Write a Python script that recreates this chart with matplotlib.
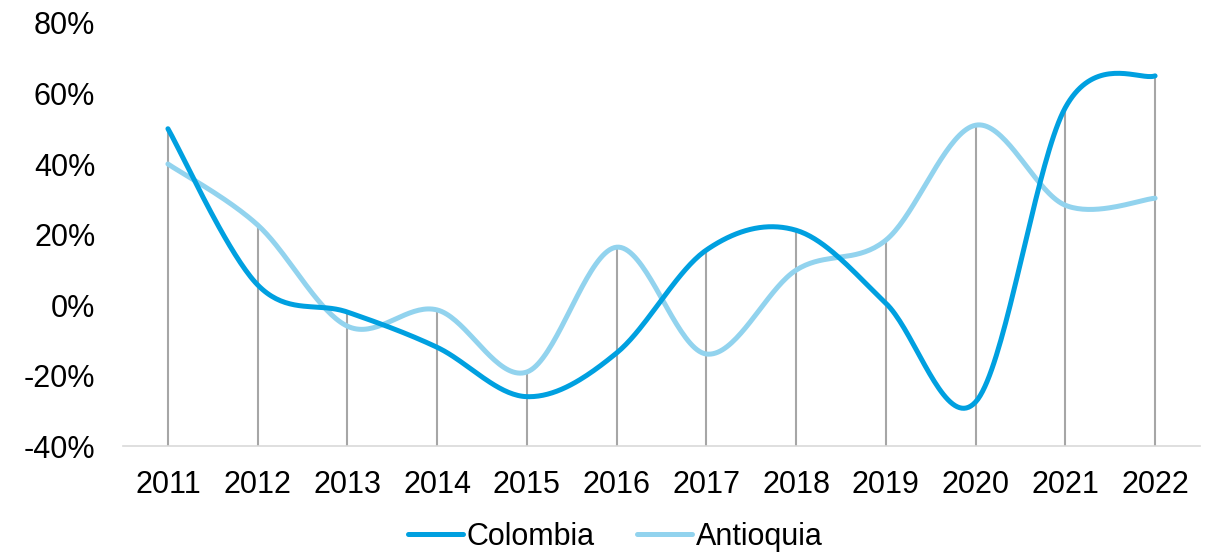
import matplotlib.pyplot as plt
import numpy as np
from matplotlib.ticker import FuncFormatter

plt.rcParams['font.family'] = ['Liberation Sans', 'DejaVu Sans']

# Data
years = ['2011', '2012', '2013', '2014', '2015', '2016',
         '2017', '2018', '2019', '2020', '2021', '2022']
colombia = [50, 5.7, -2, -12, -26, -13.6, 15.6, 21.2, 0.5, -27.5, 56, 65]
antioquia = [40, 22.7, -6, -1.4, -19, 16.4, -13.9, 9.9, 18.4, 51, 28.3, 30.3]


def smooth(x, y, n=40):
    # Excel-style smoothed line: cubic Bezier with Catmull-Rom control points
    x = np.asarray(x, float)
    y = np.asarray(y, float)
    px, py = [x[0]], [y[0]]
    for i in range(len(x) - 1):
        i0 = max(i - 1, 0)
        i3 = min(i + 2, len(x) - 1)
        c1x = x[i] + (x[i + 1] - x[i0]) / 6
        c1y = y[i] + (y[i + 1] - y[i0]) / 6
        c2x = x[i + 1] - (x[i3] - x[i]) / 6
        c2y = y[i + 1] - (y[i3] - y[i]) / 6
        t = np.linspace(0, 1, n)[1:]
        bx = (1 - t)**3 * x[i] + 3 * (1 - t)**2 * t * c1x + 3 * (1 - t) * t**2 * c2x + t**3 * x[i + 1]
        by = (1 - t)**3 * y[i] + 3 * (1 - t)**2 * t * c1y + 3 * (1 - t) * t**2 * c2y + t**3 * y[i + 1]
        px.extend(bx)
        py.extend(by)
    return np.array(px), np.array(py)


fig = plt.figure(figsize=(12.16, 5.54), dpi=100)
ax = fig.add_axes([0.1012, 0.1949, 0.8856, 0.7636])

x = np.arange(len(years))

# drop lines from the highest point down to the axis
tops = np.maximum(colombia, antioquia)
ax.vlines(x, -40, tops, color='#A6A6A6', lw=1.5, zorder=1)

sx, sy = smooth(x, colombia)
ax.plot(sx, sy, color='#00A0E0', lw=3.6, solid_capstyle='round', label='Colombia', zorder=3)
sx, sy = smooth(x, antioquia)
ax.plot(sx, sy, color='#92D3EE', lw=3.6, solid_capstyle='round', label='Antioquia', zorder=2)

ax.set_xlim(-0.5, len(years) - 0.5)
ax.set_ylim(-40, 80)
ax.set_yticks(range(-40, 81, 20))
ax.yaxis.set_major_formatter(FuncFormatter(lambda v, p: f'{v:.0f}%'))
ax.set_xticks(x)
ax.set_xticklabels(years)

for s in ['top', 'right', 'left']:
    ax.spines[s].set_visible(False)
ax.spines['bottom'].set_color('#D9D9D9')
ax.spines['bottom'].set_linewidth(1.2)
ax.tick_params(axis='both', length=0, labelsize=22)
ax.tick_params(axis='y', pad=20)
ax.tick_params(axis='x', pad=17)

fig.legend(loc='center', bbox_to_anchor=(0.506, 0.031), ncol=2, frameon=False,
           fontsize=22, handlelength=1.8, handletextpad=0.13, columnspacing=1.37,
           borderpad=0.2)

fig.savefig('out.png', dpi=100)
